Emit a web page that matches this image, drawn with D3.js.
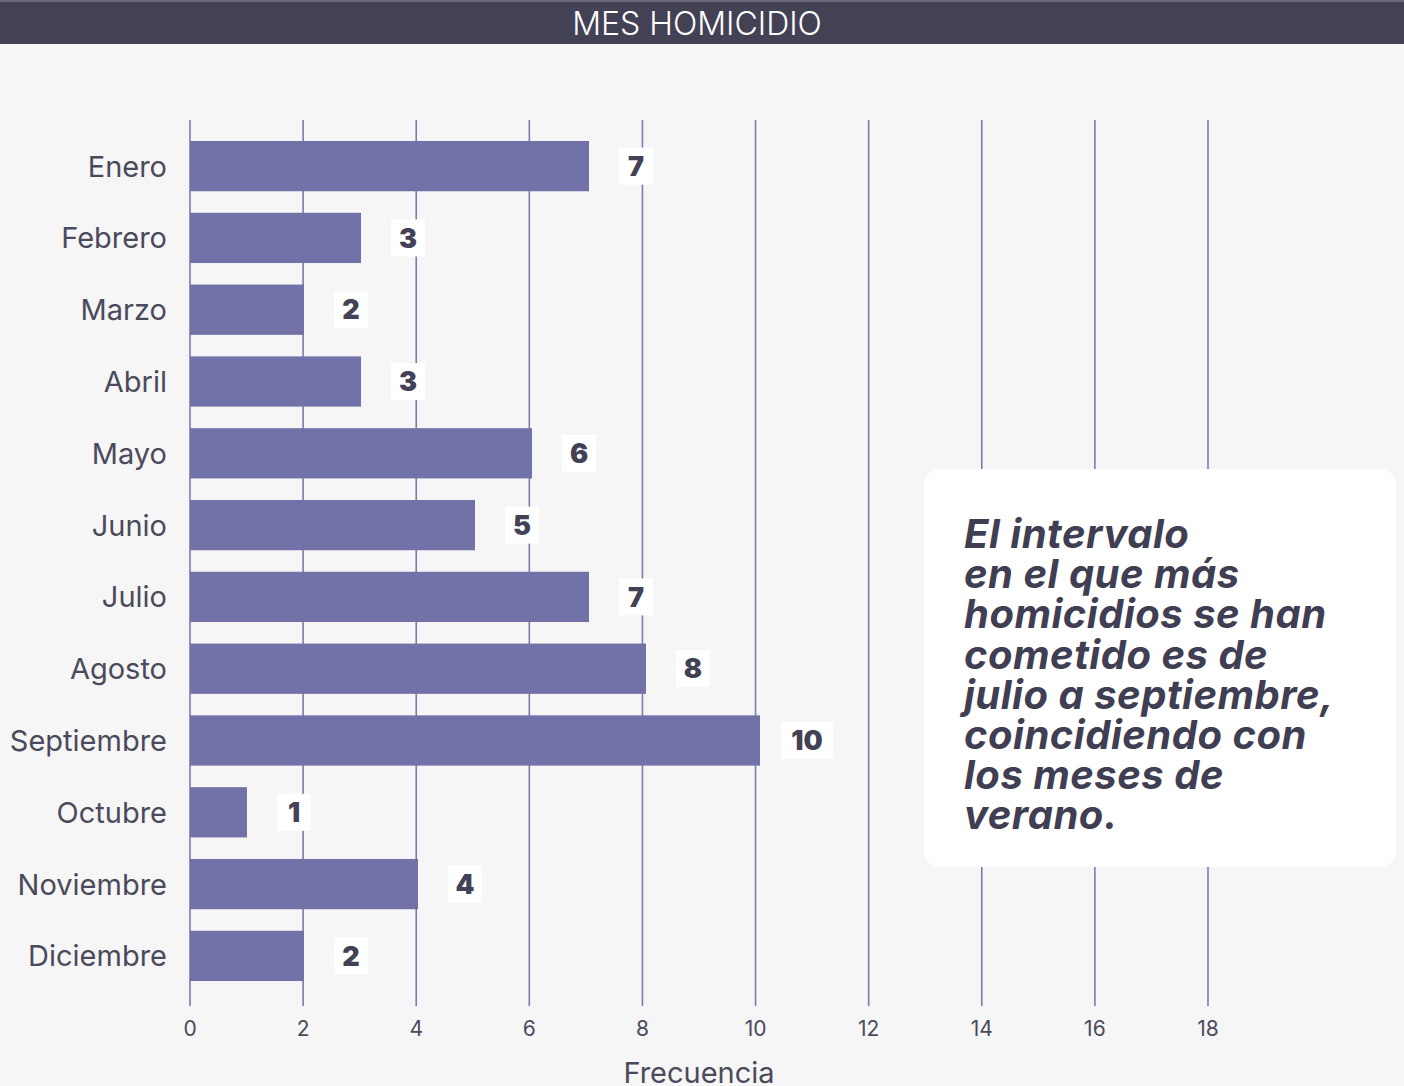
<!DOCTYPE html>
<html>
<head>
<meta charset="utf-8">
<script src="https://cdn.jsdelivr.net/npm/d3@7"></script>
<style>
  html, body { margin: 0; padding: 0; background: #f6f6f6; }
  svg { display: block; font-family: Inter, "Noto Sans", sans-serif; }
</style>
</head>
<body>
<div class="chart"></div>
<script>
const months = ['Enero', 'Febrero', 'Marzo', 'Abril', 'Mayo', 'Junio', 'Julio',
  'Agosto', 'Septiembre', 'Octubre', 'Noviembre', 'Diciembre'];
const counts = [7, 3, 2, 3, 6, 5, 7, 8, 10, 1, 4, 2];
const xTicks = [0, 2, 4, 6, 8, 10, 12, 14, 16, 18];
const note = ['El intervalo', 'en el que más', 'homicidios se han', 'cometido es de',
  'julio a septiembre,', 'coincidiendo con', 'los meses de', 'verano.'];

const width = 1404;
const height = 1086;
const ink = '#424155';

const svg = d3.select('.chart')
  .append('svg')
  .attr('width', width)
  .attr('height', height);

svg.append('rect')
  .attr('width', width).attr('height', height)
  .attr('fill', '#f6f6f6');

// title band
svg.append('rect')
  .attr('x', 0).attr('y', 0).attr('width', width).attr('height', 2)
  .attr('fill', '#6b6a78');
svg.append('rect')
  .attr('x', 0).attr('y', 2).attr('width', width).attr('height', 42)
  .attr('fill', '#434154');
svg.append('text')
  .attr('x', 697).attr('y', 35)
  .attr('text-anchor', 'middle')
  .attr('fill', '#fff')
  .attr('font-size', 32)
  .attr('font-weight', 300)
  .text('MES HOMICIDIO');

// grid scale and bar scale differ slightly in the original
const x = d3.scaleLinear().domain([0, 18]).range([190, 1208]);
const xBar = d3.scaleLinear().domain([0, 10]).range([190, 760]);
const y = d3.scaleBand().domain(months).range([118, 1004]).paddingInner(0.3).paddingOuter(0.32);

// grid lines
svg.append('g')
  .selectAll('line')
  .data(xTicks)
  .join('line')
  .attr('x1', d => x(d)).attr('x2', d => x(d))
  .attr('y1', 120).attr('y2', 1006)
  .attr('stroke', '#7c7ab4')
  .attr('stroke-width', 1.6);

// tick labels
svg.append('g')
  .selectAll('text')
  .data(xTicks)
  .join('text')
  .attr('x', d => x(d))
  .attr('y', 1036)
  .attr('text-anchor', 'middle')
  .attr('fill', '#4b4a5c')
  .attr('font-size', 21)
  .text(d => d);

svg.append('text')
  .attr('x', 699).attr('y', 1083)
  .attr('text-anchor', 'middle')
  .attr('fill', '#4b4a5c')
  .attr('font-size', 29)
  .text('Frecuencia');

// bars
svg.append('g')
  .selectAll('rect')
  .data(months)
  .join('rect')
  .attr('x', xBar(0))
  .attr('y', d => y(d))
  .attr('width', (d, i) => xBar(counts[i]) - xBar(0))
  .attr('height', y.bandwidth())
  .attr('fill', '#7372a8');

// category labels
svg.append('g')
  .selectAll('text')
  .data(months)
  .join('text')
  .attr('x', 167)
  .attr('y', d => y(d) + y.bandwidth() / 2)
  .attr('dy', '0.36em')
  .attr('text-anchor', 'end')
  .attr('fill', '#4b4a5c')
  .attr('font-size', 29)
  .text(d => d);

// value labels
const lab = svg.append('g')
  .selectAll('g')
  .data(months)
  .join('g')
  .attr('transform', (d, i) => `translate(${xBar(counts[i]) + 47},${y(d) + y.bandwidth() / 2})`);

lab.append('rect')
  .attr('x', (d, i) => counts[i] >= 10 ? -26 : -17)
  .attr('y', -18.5)
  .attr('width', (d, i) => counts[i] >= 10 ? 52 : 34)
  .attr('height', 37)
  .attr('fill', '#fff');

lab.append('text')
  .attr('text-anchor', 'middle')
  .attr('dy', '0.36em')
  .attr('fill', ink)
  .attr('font-size', 27)
  .attr('font-weight', 900)
  .text((d, i) => counts[i]);

// annotation
svg.append('rect')
  .attr('x', 924).attr('y', 469)
  .attr('width', 472).attr('height', 398)
  .attr('rx', 15)
  .attr('fill', '#fff');

svg.append('text')
  .attr('fill', '#3f3e52')
  .attr('font-size', 40)
  .attr('font-weight', 700)
  .attr('font-style', 'italic')
  .attr('letter-spacing', 0.5)
  .selectAll('tspan')
  .data(note)
  .join('tspan')
  .attr('x', 964)
  .attr('y', (d, i) => 548 + i * 40.2)
  .text(d => d);
</script>
</body>
</html>
